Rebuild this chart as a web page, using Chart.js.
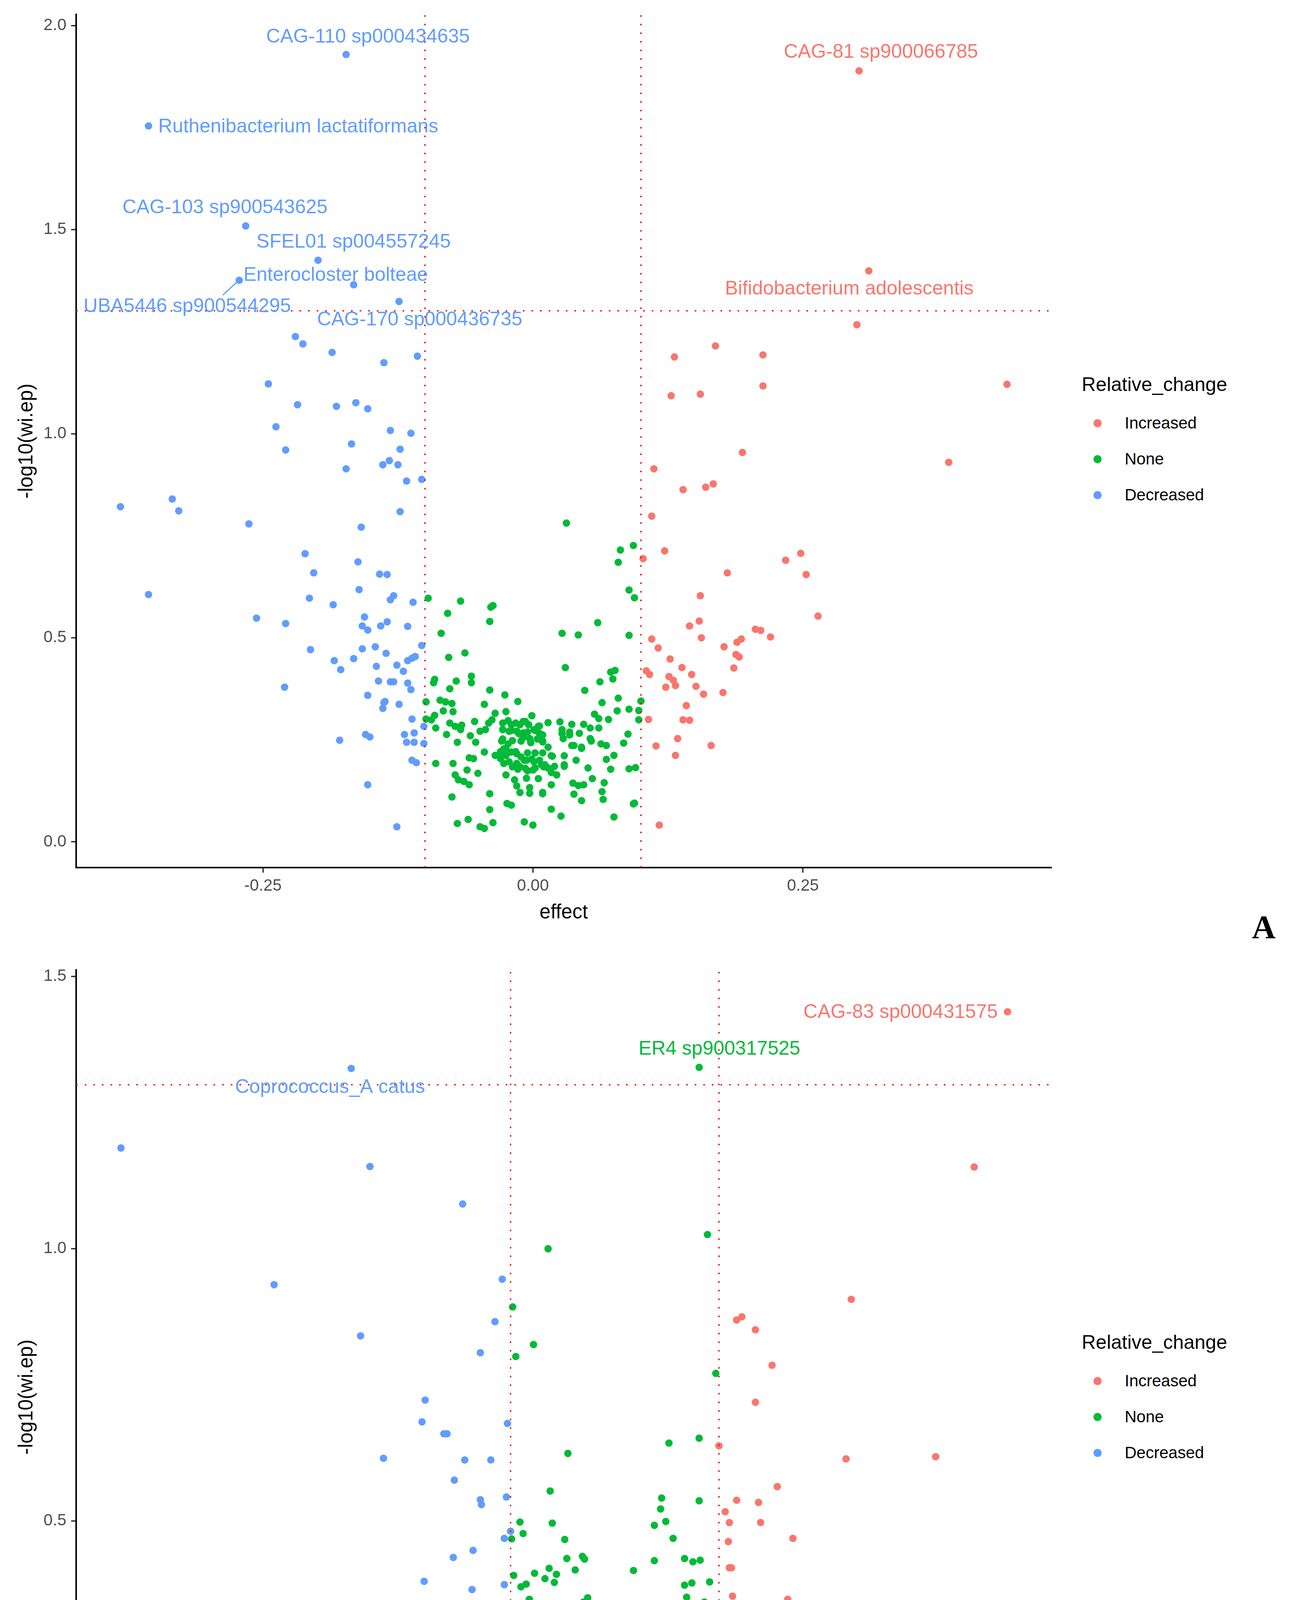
<!DOCTYPE html>
<html>
<head>
<meta charset="utf-8">
<script src="https://cdn.jsdelivr.net/npm/chart.js@4.4.1/dist/chart.umd.min.js"></script>
<style>
  body { margin: 0; background: #fff; width: 3311px; height: 4888px; position: relative; overflow: hidden;
         font-family: "Liberation Sans", Arial, sans-serif; }
  canvas { position: absolute; left: 0; }
  .lg-title { position: absolute; font-size: 50px; height: 60px; line-height: 60px; color: #000; white-space: nowrap; }
  .lg-item { position: absolute; font-size: 42px; height: 60px; line-height: 60px; color: #000; white-space: nowrap; }
  .lg-dot { position: absolute; width: 21px; height: 21px; border-radius: 50%; }
  .panel-tag { position: absolute; width: 120px; height: 100px; line-height: 100px; text-align: center;
               font-family: "Liberation Serif", "Times New Roman", serif; font-weight: bold; font-size: 84px; color: #000; }
</style>
</head>
<body>
<canvas id="panelA" width="2700" height="2400" style="top:0px;width:2700px;height:2400px"></canvas>
<canvas id="panelB" width="2700" height="2468" style="top:2420px;width:2700px;height:2468px"></canvas>
<div class="panel-tag" style="left:3176px;top:2324px">A</div>
<div class="panel-tag" style="left:3176px;top:4767px">B</div>
<script>
// ---- data: [effect, -log10(wi.ep)] ----
const groups = ["Increased", "None", "Decreased"];
const groupColors = { Increased: "#F8766D", None: "#00BA38", Decreased: "#619CFF" };
const effectCut = 0.1;
const pCut = 1.30103; // -log10(0.05)

const panelA_increased = [
  [0.302,1.889],[0.311,1.399],[0.300,1.267],[0.169,1.215],[0.131,1.188],[0.213,1.193],[0.213,1.117],
  [0.128,1.093],[0.155,1.097],[0.439,1.121],[0.194,0.954],[0.385,0.930],[0.112,0.914],[0.139,0.863],
  [0.160,0.869],[0.167,0.877],[0.110,0.798],[0.122,0.713],[0.102,0.694],[0.234,0.690],[0.248,0.707],
  [0.180,0.659],[0.253,0.655],[0.155,0.603],[0.264,0.553],[0.154,0.541],[0.145,0.529],[0.206,0.521],
  [0.211,0.518],[0.156,0.500],[0.220,0.502],[0.110,0.497],[0.116,0.475],[0.189,0.489],[0.193,0.497],
  [0.177,0.478],[0.188,0.459],[0.191,0.453],[0.127,0.448],[0.138,0.427],[0.186,0.426],[0.105,0.419],
  [0.108,0.410],[0.147,0.410],[0.126,0.405],[0.130,0.396],[0.132,0.383],[0.123,0.379],[0.151,0.381],
  [0.158,0.362],[0.176,0.366],[0.142,0.334],[0.107,0.300],[0.139,0.299],[0.145,0.298],[0.134,0.253],
  [0.114,0.235],[0.165,0.236],[0.132,0.212],[0.117,0.041]
];
const panelA_none = [
  [-0.097,0.597],[-0.067,0.590],[-0.037,0.579],[-0.039,0.575],[-0.079,0.560],[-0.040,0.540],[-0.085,0.511],
  [-0.063,0.463],[-0.078,0.452],[-0.091,0.398],[-0.092,0.390],[-0.071,0.394],[-0.057,0.406],[-0.057,0.390],
  [-0.077,0.375],[-0.040,0.372],[-0.026,0.360],[-0.014,0.344],[-0.099,0.343],[-0.086,0.347],[-0.081,0.343],
  [-0.075,0.339],[-0.045,0.337],[-0.083,0.321],[-0.074,0.319],[-0.025,0.319],[-0.035,0.315],[-0.091,0.310],
  [-0.099,0.301],[-0.094,0.299],[-0.038,0.299],[-0.001,0.309],[-0.054,0.295],[-0.077,0.291],[-0.072,0.283],
  [-0.066,0.286],[-0.041,0.291],[-0.028,0.291],[-0.020,0.287],[-0.012,0.287],[-0.007,0.295],[-0.090,0.279],
  [-0.067,0.275],[-0.049,0.271],[-0.044,0.275],[-0.028,0.275],[-0.022,0.271],[-0.015,0.271],[-0.009,0.267],
  [0.005,0.283],[-0.080,0.263],[-0.058,0.260],[-0.070,0.244],[-0.028,0.252],[-0.053,0.244],[-0.019,0.248],
  [-0.009,0.256],[0.004,0.252],[-0.027,0.228],[-0.045,0.220],[-0.035,0.212],[-0.030,0.204],[-0.025,0.212],
  [-0.020,0.220],[-0.015,0.216],[-0.011,0.208],[-0.006,0.200],[0.001,0.196],[0.010,0.184],[-0.059,0.206],
  [-0.055,0.204],[-0.090,0.192],[-0.074,0.192],[-0.027,0.192],[-0.019,0.184],[-0.012,0.184],[-0.007,0.180],
  [0.000,0.176],[-0.061,0.176],[-0.072,0.164],[-0.051,0.168],[-0.025,0.164],[-0.017,0.152],[-0.006,0.156],
  [-0.069,0.152],[-0.064,0.148],[-0.059,0.140],[-0.015,0.137],[-0.003,0.133],[-0.012,0.121],[0.009,0.121],
  [-0.075,0.110],[-0.040,0.118],[-0.024,0.094],[-0.020,0.090],[-0.040,0.079],[-0.070,0.045],[-0.060,0.055],
  [-0.049,0.037],[-0.045,0.033],[-0.037,0.047],[-0.008,0.049],[0.000,0.041],
  [0.031,0.781],[0.093,0.726],[0.081,0.715],[0.079,0.685],[0.089,0.617],[0.094,0.598],[0.060,0.537],
  [0.027,0.511],[0.042,0.507],[0.089,0.506],[0.030,0.427],[0.072,0.416],[0.076,0.420],[0.074,0.399],
  [0.062,0.392],[0.048,0.371],[0.079,0.352],[0.100,0.345],[0.064,0.341],[0.078,0.321],[0.089,0.325],
  [0.098,0.322],[0.057,0.313],[0.061,0.302],[0.070,0.300],[0.098,0.299],[0.014,0.292],[0.025,0.294],
  [0.036,0.288],[0.047,0.288],[0.053,0.279],[0.061,0.279],[0.001,0.275],[0.006,0.266],[0.027,0.275],
  [0.034,0.262],[0.043,0.266],[0.053,0.253],[0.088,0.264],[-0.003,0.253],[0.009,0.245],[0.028,0.253],
  [0.038,0.236],[0.045,0.232],[0.063,0.240],[0.068,0.236],[0.084,0.242],[0.017,0.211],[0.029,0.211],
  [0.040,0.200],[0.068,0.202],[0.075,0.212],[0.008,0.189],[0.014,0.181],[0.029,0.185],[0.051,0.181],
  [0.072,0.178],[0.089,0.179],[0.095,0.182],[0.005,0.155],[0.022,0.164],[0.055,0.155],[0.037,0.144],
  [0.042,0.138],[0.047,0.140],[0.066,0.145],[0.017,0.140],[-0.003,0.119],[0.009,0.118],[0.038,0.117],
  [0.064,0.123],[0.065,0.104],[0.045,0.101],[0.093,0.093],[0.094,0.095],[0.017,0.080],[0.026,0.063],
  [0.075,0.061],
  [-0.023,0.297],[-0.016,0.291],[-0.009,0.295],[-0.004,0.287],[0.006,0.284],[-0.020,0.273],[-0.013,0.265],
  [-0.005,0.269],[0.002,0.273],[0.009,0.262],[-0.029,0.247],[-0.023,0.240],[-0.011,0.247],[-0.002,0.243],
  [0.009,0.247],[0.014,0.232],[-0.030,0.221],[-0.025,0.229],[-0.016,0.221],[-0.005,0.218],[0.002,0.218],
  [0.009,0.218],[0.018,0.210],[-0.022,0.196],[-0.015,0.192],[-0.008,0.200],[-0.001,0.203],[0.006,0.200],
  [0.011,0.189],[0.020,0.185],[0.029,0.189],[-0.014,0.178],[-0.005,0.174],[0.002,0.181],[0.017,0.170],
  [0.027,0.265],[0.034,0.269],[0.036,0.236],[0.045,0.229],[0.054,0.247]
];
const panelA_decreased = [
  [-0.173,1.929],[-0.356,1.754],[-0.266,1.509],[-0.199,1.425],[-0.272,1.376],[-0.166,1.365],[-0.124,1.324],
  [-0.220,1.238],[-0.213,1.220],[-0.186,1.199],[-0.138,1.174],[-0.107,1.190],[-0.245,1.122],[-0.218,1.071],
  [-0.182,1.067],[-0.164,1.076],[-0.153,1.061],[-0.238,1.017],[-0.132,1.008],[-0.113,1.001],
  [-0.168,0.975],[-0.229,0.960],[-0.123,0.962],[-0.139,0.924],[-0.133,0.934],[-0.125,0.924],[-0.173,0.914],
  [-0.117,0.884],[-0.103,0.888],[-0.382,0.821],[-0.334,0.840],[-0.328,0.811],[-0.123,0.809],[-0.263,0.779],
  [-0.159,0.771],[-0.211,0.706],[-0.162,0.686],[-0.203,0.659],[-0.142,0.656],[-0.135,0.655],[-0.356,0.606],
  [-0.161,0.618],[-0.129,0.603],[-0.132,0.593],[-0.207,0.597],[-0.185,0.581],[-0.111,0.587],[-0.256,0.548],
  [-0.229,0.535],[-0.156,0.551],[-0.158,0.529],[-0.153,0.519],[-0.141,0.529],[-0.135,0.539],[-0.116,0.528],
  [-0.103,0.481],[-0.206,0.471],[-0.158,0.473],[-0.146,0.478],[-0.136,0.462],[-0.184,0.444],[-0.178,0.422],
  [-0.166,0.449],[-0.145,0.430],[-0.126,0.433],[-0.120,0.418],[-0.116,0.444],[-0.112,0.450],[-0.109,0.454],
  [-0.143,0.394],[-0.132,0.392],[-0.129,0.392],[-0.116,0.389],[-0.113,0.373],[-0.230,0.379],[-0.153,0.359],
  [-0.138,0.341],[-0.137,0.344],[-0.139,0.327],[-0.124,0.337],[-0.112,0.301],[-0.101,0.283],[-0.119,0.263],
  [-0.110,0.267],[-0.155,0.263],[-0.151,0.257],[-0.179,0.249],[-0.117,0.244],[-0.110,0.244],[-0.101,0.241],
  [-0.112,0.200],[-0.108,0.194],[-0.153,0.140],[-0.126,0.037]
];
const panelA_labels = [
  ["CAG-110 sp000434635", -0.173, 1.929, "Decreased"],
  ["Ruthenibacterium lactatiformans", -0.356, 1.754, "Decreased"],
  ["CAG-103 sp900543625", -0.266, 1.509, "Decreased"],
  ["SFEL01 sp004557245", -0.199, 1.425, "Decreased"],
  ["Enterocloster bolteae", -0.166, 1.365, "Decreased"],
  ["UBA5446 sp900544295", -0.272, 1.376, "Decreased"],
  ["CAG-170 sp000436735", -0.124, 1.324, "Decreased"],
  ["CAG-81 sp900066785", 0.302, 1.889, "Increased"],
  ["Bifidobacterium adolescentis", 0.311, 1.399, "Increased"]
];
const panelA_xTicks = [-0.25, 0, 0.25];
const panelA_xTickLabels = ["-0.25", "0.00", "0.25"];
const panelA_yTicks = [0, 0.5, 1, 1.5, 2];
const panelA_yTickLabels = ["0.0", "0.5", "1.0", "1.5", "2.0"];

const panelB_increased = [
  [0.377,1.435],[0.345,1.150],[0.227,0.907],[0.117,0.869],[0.122,0.875],[0.135,0.851],[0.151,0.786],
  [0.135,0.718],[0.100,0.638],[0.222,0.614],[0.308,0.618],[0.156,0.563],[0.117,0.538],[0.138,0.534],
  [0.106,0.517],[0.110,0.497],[0.140,0.497],[0.171,0.468],[0.109,0.462],[0.110,0.414],[0.112,0.414],
  [0.113,0.362],[0.154,0.348],[0.166,0.356],[0.106,0.339],[0.124,0.331],[0.105,0.299],[0.139,0.299],
  [0.103,0.288],[0.106,0.276],[0.100,0.252],[0.115,0.167]
];
const panelB_none = [
  [-0.064,1.000],[-0.098,0.893],[-0.078,0.824],[-0.095,0.802],[-0.045,0.624],[-0.062,0.555],
  [0.081,1.333],[0.089,1.026],[0.097,0.771],
  [0.052,0.643],[0.081,0.652],[0.045,0.542],[0.081,0.537],[0.044,0.522],[-0.091,0.498],[-0.060,0.496],
  [0.038,0.492],[0.049,0.499],[-0.088,0.477],[-0.099,0.467],[-0.048,0.466],[0.056,0.468],[-0.046,0.431],
  [-0.031,0.435],[-0.029,0.430],[0.038,0.427],[0.067,0.431],[0.075,0.425],[0.082,0.428],[0.018,0.409],
  [-0.038,0.410],[-0.063,0.413],[-0.097,0.400],[-0.077,0.404],[-0.056,0.402],[-0.067,0.394],[-0.058,0.387],
  [-0.090,0.379],[-0.085,0.384],[0.067,0.382],[0.074,0.386],[0.091,0.388],[-0.082,0.356],[-0.030,0.351],
  [-0.026,0.359],[0.069,0.360],[0.077,0.348],[0.077,0.338],[0.086,0.351],[0.038,0.322],[-0.009,0.313],
  [0.077,0.313],[-0.024,0.314],[-0.088,0.328],[-0.075,0.328],[-0.084,0.310],[-0.070,0.312],[-0.045,0.330],
  [-0.044,0.321],[-0.057,0.321],[-0.051,0.318],[-0.038,0.316],[-0.032,0.309],[-0.085,0.299],[0.059,0.300],
  [0.085,0.295],[0.088,0.300],
  [-0.078,0.291],[-0.088,0.283],[-0.075,0.280],[-0.060,0.285],[-0.054,0.299],[-0.047,0.288],[-0.040,0.285],
  [-0.032,0.291],[-0.025,0.283],[-0.018,0.285],[-0.009,0.277],[-0.002,0.269],[0.004,0.285],[0.011,0.288],
  [0.022,0.294],[0.029,0.285],[0.035,0.294],[0.042,0.288],[0.047,0.280],[0.059,0.277],[0.095,0.281],
  [-0.093,0.255],[-0.098,0.252],[-0.081,0.266],[-0.074,0.261],[-0.058,0.266],[-0.052,0.255],[-0.044,0.263],
  [-0.037,0.269],[-0.029,0.261],[-0.022,0.266],[-0.015,0.255],[-0.007,0.263],[0.002,0.261],[0.008,0.263],
  [0.014,0.252],[0.022,0.263],[0.030,0.266],[0.037,0.261],[0.044,0.266],[0.051,0.258],[0.060,0.252],
  [0.067,0.241],[0.078,0.252],[0.088,0.239],
  [-0.074,0.247],[-0.058,0.239],[-0.050,0.241],[-0.042,0.233],[-0.034,0.247],[-0.028,0.233],[-0.018,0.239],
  [-0.009,0.241],[-0.002,0.233],[0.005,0.244],[0.012,0.236],[0.019,0.233],[0.028,0.239],[0.037,0.233],
  [0.045,0.241],[0.054,0.239],[0.077,0.225],[-0.100,0.225],[-0.087,0.207],[-0.074,0.211],[-0.068,0.219],
  [-0.061,0.217],[-0.051,0.219],[-0.044,0.209],[-0.035,0.214],[-0.027,0.217],[-0.018,0.209],[-0.009,0.217],
  [0.002,0.211],[0.011,0.217],[0.018,0.219],[0.027,0.214],[0.035,0.222],[0.044,0.211],[0.052,0.209],
  [0.060,0.206],[0.071,0.222],[0.080,0.200],[0.085,0.203],
  [-0.067,0.197],[-0.061,0.189],[-0.053,0.192],[-0.044,0.195],[-0.032,0.195],[-0.025,0.200],[-0.015,0.192],
  [-0.007,0.186],[0.005,0.192],[0.014,0.197],[0.022,0.189],[0.031,0.195],[0.038,0.184],[0.055,0.192],
  [0.062,0.189],[-0.075,0.181],[-0.078,0.170],[-0.045,0.167],[-0.038,0.173],[-0.028,0.178],[-0.018,0.170],
  [-0.008,0.173],[0.019,0.170],[0.038,0.178],[0.055,0.178],[0.064,0.167],[0.071,0.178],[0.093,0.165],
  [-0.068,0.153],[-0.054,0.145],[-0.044,0.151],[-0.035,0.156],[-0.027,0.145],[-0.015,0.153],[0.065,0.153],
  [-0.071,0.137],[-0.045,0.137],[-0.038,0.132],[-0.029,0.140],[-0.021,0.134],[-0.014,0.140],[-0.004,0.137],
  [0.005,0.137],[0.016,0.148],[0.028,0.145],[0.035,0.140],[0.012,0.126],[0.019,0.129],[0.054,0.134],
  [0.052,0.121],[-0.073,0.113],[-0.055,0.105],[-0.041,0.126],[-0.029,0.115],[-0.018,0.112],[-0.012,0.113],
  [0.022,0.118],[0.035,0.112],[0.042,0.104],[-0.016,0.099],[0.001,0.099],[0.008,0.096],[0.024,0.089],
  [-0.035,0.088],[-0.042,0.064],[-0.038,0.049],[0.002,0.055],[0.002,0.037],[0.030,0.040],[0.055,0.067],
  [-0.052,0.028],[-0.042,0.021],
  [-0.055,0.316],[-0.046,0.330],[-0.040,0.316],[-0.036,0.303],[-0.049,0.295],[-0.040,0.289],[-0.029,0.295],
  [-0.023,0.284],[-0.055,0.267],[-0.043,0.267],[-0.035,0.262],[-0.027,0.267],[-0.017,0.273],[-0.010,0.275],
  [-0.003,0.267],[0.003,0.281],[0.008,0.289],[0.033,0.289],[0.040,0.292],[0.034,0.273],[-0.058,0.245],
  [-0.046,0.242],[-0.035,0.245],[-0.025,0.251],[-0.015,0.251],[-0.006,0.242],[0.003,0.251],[0.011,0.242],
  [0.020,0.251],[0.026,0.262],[0.031,0.251],[0.039,0.240],[-0.046,0.226],[-0.032,0.229],[-0.020,0.231],
  [-0.010,0.226],[0.004,0.231],[0.014,0.223],[0.023,0.229],[0.034,0.223],[-0.060,0.207],[-0.029,0.207],
  [-0.017,0.212],[-0.009,0.201],[0.008,0.207],[0.017,0.212],[0.026,0.201],[0.034,0.196],[-0.063,0.196],
  [-0.029,0.190],[-0.010,0.185],[0.008,0.196],[0.019,0.187],[0.031,0.187],[-0.006,0.174],[-0.043,0.168],
  [-0.035,0.174],[-0.023,0.171],[-0.040,0.143],[-0.032,0.138],[-0.023,0.135],[-0.015,0.141],[-0.003,0.138],
  [0.006,0.146],[-0.043,0.130],[-0.035,0.124],[-0.017,0.130]
];
const panelB_decreased = [
  [-0.253,1.331],[-0.474,1.185],[-0.235,1.151],[-0.146,1.082],[-0.327,0.934],[-0.108,0.944],[-0.115,0.866],
  [-0.244,0.840],[-0.129,0.809],[-0.182,0.722],[-0.185,0.682],[-0.164,0.660],[-0.161,0.660],[-0.103,0.679],
  [-0.222,0.615],[-0.144,0.612],[-0.119,0.612],[-0.154,0.575],[-0.129,0.539],[-0.128,0.530],[-0.104,0.544],
  [-0.100,0.481],[-0.106,0.468],[-0.136,0.446],[-0.155,0.433],[-0.183,0.389],[-0.137,0.374],[-0.106,0.383],
  [-0.113,0.347],[-0.125,0.333],[-0.160,0.323],[-0.147,0.310],[-0.171,0.281],[-0.112,0.268],[-0.108,0.266],
  [-0.106,0.254],[-0.112,0.231]
];
const panelB_labels = [
  ["Coprococcus_A catus", -0.253, 1.331, "Decreased"],
  ["ER4 sp900317525", 0.081, 1.333, "None"],
  ["CAG-83 sp000431575", 0.377, 1.435, "Increased"]
];
const panelB_xTicks = [-0.5, -0.25, 0, 0.25];
const panelB_xTickLabels = ["-0.50", "-0.25", "0.00", "0.25"];
const panelB_yTicks = [0, 0.5, 1, 1.5];
const panelB_yTickLabels = ["0.0", "0.5", "1.0", "1.5"];

// ---- styling ----
const FONT = '"Liberation Sans", Arial, sans-serif';
// pixel offset of each repelled label from its point
const labelStyle = {
  "CAG-110 sp000434635": { dx: 56, dy: -44 },
  "Ruthenibacterium lactatiformans": { dx: 25, dy: 3, align: "left" },
  "CAG-103 sp900543625": { dx: -53, dy: -46 },
  "SFEL01 sp004557245": { dx: 91, dy: -46 },
  "Enterocloster bolteae": { dx: -46, dy: -24 },
  "UBA5446 sp900544295": { dx: -133, dy: 68, seg: [-42, 38, -6, 5] },
  "CAG-170 sp000436735": { dx: 53, dy: 47 },
  "CAG-81 sp900066785": { dx: 56, dy: -47 },
  "Bifidobacterium adolescentis": { dx: -50, dy: 47 },
  "Coprococcus_A catus": { dx: -54, dy: 49 },
  "ER4 sp900317525": { dx: 52, dy: -46 },
  "CAG-83 sp000431575": { dx: -25, dy: 2, align: "right" },
};

const repelLabels = {
  id: "repelLabels",
  afterDatasetsDraw(chart, args, opts) {
    const { ctx, scales: { x, y } } = chart;
    ctx.save();
    ctx.font = `50px ${FONT}`;
    ctx.textBaseline = "middle";
    for (const [name, vx, vy, group] of opts.items) {
      const st = labelStyle[name];
      const px = x.getPixelForValue(vx);
      const py = y.getPixelForValue(vy);
      ctx.fillStyle = groupColors[group];
      ctx.strokeStyle = groupColors[group];
      if (st.seg) {
        ctx.lineWidth = 3;
        ctx.beginPath();
        ctx.moveTo(px + st.seg[0], py + st.seg[1]);
        ctx.lineTo(px + st.seg[2], py + st.seg[3]);
        ctx.stroke();
      }
      ctx.textAlign = st.align || "center";
      ctx.fillText(name, px + st.dx, py + st.dy);
    }
    ctx.restore();
  }
};

function toPoints(rows) {
  return rows.map(([x, y]) => ({ x, y }));
}

function refLine(data) {
  return {
    data, showLine: true, pointRadius: 0, borderColor: "#FF0000", borderWidth: 3.5,
    borderDash: [4, 18], borderCapStyle: "butt", fill: false,
  };
}

function plotPanel(canvasId, p) {
  const ctx = document.getElementById(canvasId);
  const series = { Increased: p.increased, None: p.none, Decreased: p.decreased };
  const pointSets = ["Decreased", "Increased", "None"].map((g) => ({
    label: g,
    data: toPoints(series[g]),
    backgroundColor: groupColors[g],
    borderWidth: 0,
    pointRadius: 9.5,
    pointHoverRadius: 9.5,
  }));

  const tickScale = (ticks, labels, extra) => ({
    type: "linear",
    afterBuildTicks: (axis) => { axis.ticks = ticks.map((value) => ({ value })); },
    grid: { display: true, drawOnChartArea: false, drawTicks: true, tickLength: 13, color: "#333333", lineWidth: 3.5 },
    border: { display: true, color: "#000000", width: 4 },
    ...extra,
    ticks: { autoSkip: false, maxRotation: 0, color: "#4D4D4D", font: { family: FONT, size: 42 },
             callback: (v, i) => labels[i], ...extra.ticks },
  });

  new Chart(ctx, {
    type: "scatter",
    data: {
      datasets: [
        refLine([{ x: -effectCut, y: p.yMin }, { x: -effectCut, y: p.yMax }]),
        refLine([{ x: effectCut, y: p.yMin }, { x: effectCut, y: p.yMax }]),
        refLine([{ x: p.xMin, y: pCut }, { x: p.xMax, y: pCut }]),
        ...pointSets,
      ],
    },
    plugins: [repelLabels],
    options: {
      responsive: false,
      animation: false,
      devicePixelRatio: 1,
      layout: { autoPadding: false, padding: p.padding },
      scales: {
        x: tickScale(p.xTicks, p.xTickLabels, {
          min: p.xMin, max: p.xMax,
          afterFit: (s) => { s.height = 160; },
          ticks: { padding: p.xTickPad },
          title: { display: true, text: "effect", color: "#000", font: { family: FONT, size: 51 },
                   padding: { top: 0, bottom: p.xTitlePad } },
        }),
        y: tickScale(p.yTicks, p.yTickLabels, {
          min: p.yMin, max: p.yMax,
          afterFit: (s) => { s.width = 195; },
          ticks: { padding: 12 },
          title: { display: true, text: "-log10(wi.ep)", color: "#000", font: { family: FONT, size: 51 },
                   padding: { top: 38, bottom: 0 } },
        }),
      },
      plugins: {
        legend: { display: false },
        tooltip: { enabled: false },
        repelLabels: { items: p.labels },
      },
    },
  });
}

function drawLegend(titleCenterY) {
  const title = document.createElement("div");
  title.className = "lg-title";
  title.textContent = "Relative_change";
  title.style.left = "2770px";
  title.style.top = (titleCenterY - 30) + "px";
  document.body.appendChild(title);
  groups.forEach((g, i) => {
    const cy = titleCenterY + 99 + i * 92;
    const dot = document.createElement("div");
    dot.className = "lg-dot";
    dot.style.background = groupColors[g];
    dot.style.left = "2800px";
    dot.style.top = (cy - 10) + "px";
    document.body.appendChild(dot);
    const txt = document.createElement("div");
    txt.className = "lg-item";
    txt.textContent = g;
    txt.style.left = "2880px";
    txt.style.top = (cy - 30) + "px";
    document.body.appendChild(txt);
  });
}

plotPanel("panelA", {
  increased: panelA_increased, none: panelA_none, decreased: panelA_decreased, labels: panelA_labels,
  xTicks: panelA_xTicks, xTickLabels: panelA_xTickLabels, yTicks: panelA_yTicks, yTickLabels: panelA_yTickLabels,
  xMin: -0.423, xMax: 0.480, yMin: -0.063, yMax: 2.027,
  padding: { top: 37, right: 8, bottom: 19, left: 0 }, xTickPad: 9, xTitlePad: 13,
});
plotPanel("panelB", {
  increased: panelB_increased, none: panelB_none, decreased: panelB_decreased, labels: panelB_labels,
  xTicks: panelB_xTicks, xTickLabels: panelB_xTickLabels, yTicks: panelB_yTicks, yTickLabels: panelB_yTickLabels,
  xMin: -0.517, xMax: 0.419, yMin: -0.057, yMax: 1.512,
  padding: { top: 63, right: 8, bottom: 58, left: 0 }, xTickPad: 6, xTitlePad: 17,
});
drawLegend(984);
drawLegend(984 + 2452);
</script>
</body>
</html>
